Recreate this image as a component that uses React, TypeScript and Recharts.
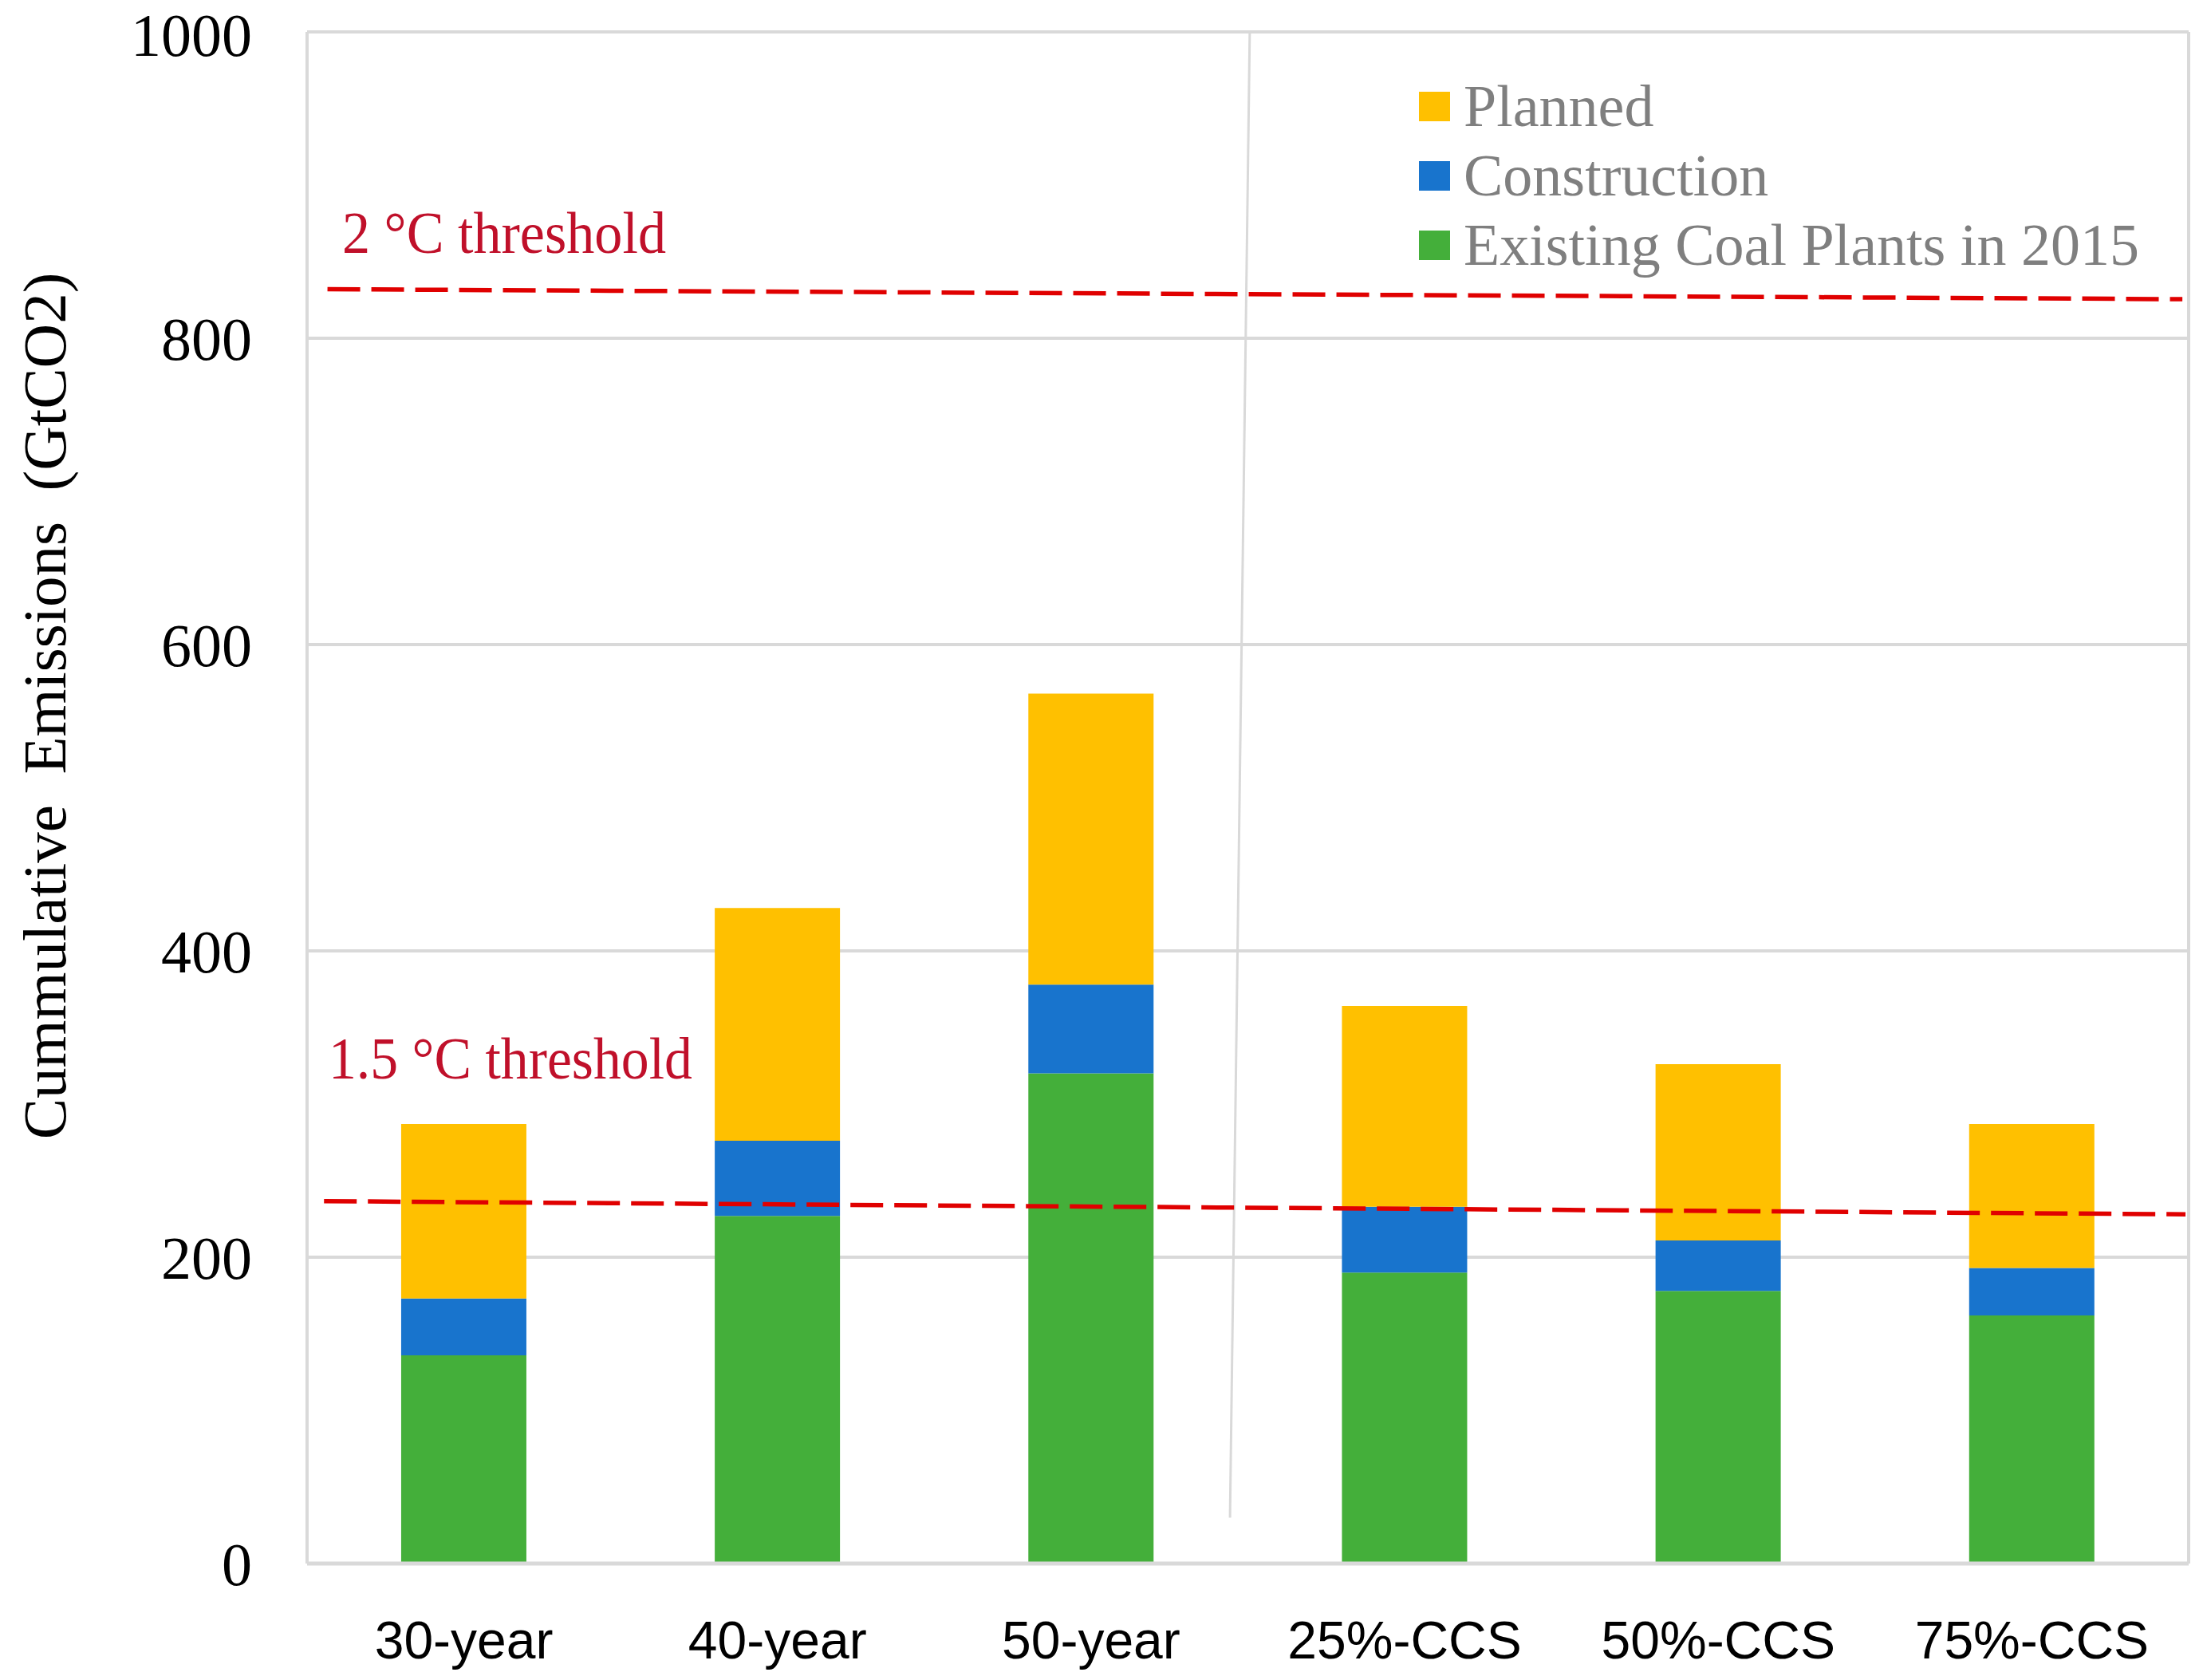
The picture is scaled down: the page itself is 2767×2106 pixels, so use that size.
import {
  BarChart,
  Bar,
  XAxis,
  YAxis,
  CartesianGrid,
  ReferenceLine,
  Legend,
} from "recharts"

const scenarios = ["30-year", "40-year", "50-year", "25%-CCS", "50%-CCS", "75%-CCS"]
const existing = [136, 227, 320, 190, 178, 162]
const construction = [37, 49, 58, 43, 33, 31]
const planned = [114, 152, 190, 131, 115, 94]
const yTicks = [0, 200, 400, 600, 800, 1000]
const legendOrder = ["Planned", "Construction", "Existing Coal Plants in 2015"]

// thresholds drawn slightly sloped, as in the original figure
const threshold2 = [
  { x: 0.065, y: 832 },
  { x: 5.98, y: 825.5 },
]
const threshold15 = [
  { x: 0.054, y: 236.6 },
  { x: 5.99, y: 228 },
]
const separator = [
  { x: 3.006, y: 1000 },
  { x: 2.943, y: 30 },
]

const data = scenarios.map((name, i) => ({
  name,
  slot: i + 0.5,
  existing: existing[i],
  construction: construction[i],
  planned: planned[i],
}))

const serif = "'Liberation Serif', 'Times New Roman', serif"
const sans = "'Liberation Sans', Arial, sans-serif"
const grid = "#d9d9d9"
const red = "#e00000"
const labelRed = "#c0102a"

const renderLegend = (props: any) => {
  const items = [...(props.payload || [])].sort(
    (a: any, b: any) => legendOrder.indexOf(a.value) - legendOrder.indexOf(b.value)
  )
  return (
    <div style={{ fontFamily: serif, fontSize: 74, color: "#7f7f7f" }}>
      {items.map((item: any) => (
        <div
          key={item.value}
          style={{ display: "flex", alignItems: "center", height: 87, lineHeight: "87px", whiteSpace: "nowrap" }}
        >
          <span style={{ width: 39, height: 37, background: item.color, marginRight: 17, display: "inline-block" }} />
          <span>{item.value}</span>
        </div>
      ))}
    </div>
  )
}

export default function App() {
  return (
    <div style={{ position: "absolute", left: 0, top: 0, background: "#fff" }}>
      <BarChart
        width={2767}
        height={2106}
        data={data}
        margin={{ top: 40, right: 23, left: 0, bottom: 0 }}
        barCategoryGap="30%"
      >
        <CartesianGrid
          stroke={grid}
          strokeWidth={4}
          verticalCoordinatesGenerator={({ offset }: any) => [offset.left, offset.left + offset.width]}
        />
        <XAxis
          dataKey="name"
          height={146}
          tickLine={false}
          tickSize={0}
          tickMargin={72}
          axisLine={{ stroke: grid, strokeWidth: 5 }}
          tick={{ fill: "#000", fontFamily: sans, fontSize: 66 }}
        />
        <XAxis xAxisId="n" dataKey="slot" type="number" domain={[0, 6]} hide allowDataOverflow />
        <YAxis
          width={385}
          domain={[0, 1000]}
          ticks={yTicks}
          tickLine={false}
          tickSize={0}
          tickMargin={69}
          axisLine={false}
          tick={{ fill: "#000", fontFamily: serif, fontSize: 76 }}
          label={{
            content: () => (
              <text
                x={82}
                y={885}
                textAnchor="middle"
                transform="rotate(-90 82 885)"
                fontFamily={serif}
                fontSize={77}
                fill="#000"
                style={{ whiteSpace: "pre" }}
              >
                {"Cummulative  Emissions  (GtCO2)"}
              </text>
            ),
          }}
        />
        <ReferenceLine xAxisId="n" segment={separator} stroke={grid} strokeWidth={3} ifOverflow="visible" />
        <Bar dataKey="existing" name="Existing Coal Plants in 2015" stackId="a" fill="#44af3a" isAnimationActive={false} />
        <Bar dataKey="construction" name="Construction" stackId="a" fill="#1874cd" isAnimationActive={false} />
        <Bar dataKey="planned" name="Planned" stackId="a" fill="#ffc000" isAnimationActive={false} />
        <ReferenceLine
          xAxisId="n"
          segment={threshold2}
          stroke={red}
          strokeWidth={5.5}
          strokeDasharray="41 14"
          ifOverflow="visible"
          label={{
            content: () => (
              <text
                x={429}
                y={317}
                fontFamily={serif}
                fontSize={75}
                fill={labelRed}
                textLength={406}
                lengthAdjust="spacingAndGlyphs"
              >
                2 °C threshold
              </text>
            ),
          }}
        />
        <ReferenceLine
          xAxisId="n"
          segment={threshold15}
          stroke={red}
          strokeWidth={5.5}
          strokeDasharray="41 14"
          ifOverflow="visible"
          label={{
            content: () => (
              <text
                x={412}
                y={1352}
                fontFamily={serif}
                fontSize={75}
                fill={labelRed}
                textLength={456}
                lengthAdjust="spacingAndGlyphs"
              >
                1.5 °C threshold
              </text>
            ),
          }}
        />
        <Legend
          layout="vertical"
          align="center"
          verticalAlign="middle"
          content={renderLegend}
          wrapperStyle={{ position: "absolute", left: 1779, top: 90, width: "auto", height: "auto" }}
        />
      </BarChart>
    </div>
  )
}
